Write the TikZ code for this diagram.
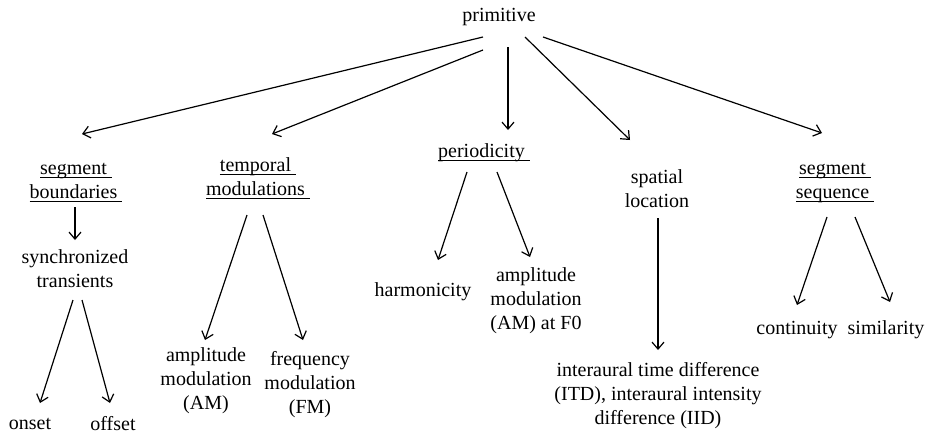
\documentclass[tikz,border=0pt]{standalone}
\usepackage{fontspec}
\setmainfont{Liberation Serif}
\usetikzlibrary{arrows.meta}
\newsavebox\ulbox
\newcommand\ulx[1]{\leavevmode\sbox\ulbox{#1\ }\rlap{\rule[-3pt]{\wd\ulbox}{0.8pt}}\usebox\ulbox}
\begin{document}
\begin{tikzpicture}[x=1pt,y=-1pt,
  txt/.style={font=\fontsize{20}{24}\selectfont, align=center, inner sep=0pt},
  arr/.style={-{Straight Barb[length=7pt,width=12pt]}, line width=1.2pt}]
\useasboundingbox (0,0) rectangle (936,434);
% nodes
\node[txt] (prim) at (499,17) {\strut primitive};
\node[txt] (sb) at (76,181.5) {\strut\ulx{segment}\\\strut\ulx{boundaries}};
\node[txt] (tm) at (258,179) {\strut\ulx{temporal}\\\strut\ulx{modulations}};
\node[txt] (per) at (484,153) {\strut\ulx{periodicity}};
\node[txt] (sl) at (657,190.5) {\strut spatial\\\strut location};
\node[txt] (ss) at (835,182) {\strut\ulx{segment}\\\strut\ulx{sequence}};
\node[txt] (st) at (75,270.5) {\strut synchronized\\\strut transients};
\node[txt] (on) at (30,424) {onset};
\node[txt] (off) at (113,424) {offset};
\node[txt] (am) at (206,381) {\strut amplitude\\\strut modulation\\\strut (AM)};
\node[txt] (fm) at (310,385) {\strut frequency\\\strut modulation\\\strut (FM)};
\node[txt] (har) at (423,292) {\strut harmonicity};
\node[txt] (amf) at (536,301) {\strut amplitude\\\strut modulation\\\strut (AM) at F0};
\node[txt] (itd) at (658,396) {\strut interaural time difference\\\strut (ITD), interaural intensity\\\strut difference (IID)};
\node[txt] (con) at (797,330) {\strut continuity};
\node[txt] (sim) at (886,330) {\strut similarity};
% connector end points
\coordinate (p1) at (483,37);  \coordinate (sbt) at (82,134);
\coordinate (p2) at (483,50);  \coordinate (tmt) at (272,134);
\coordinate (p3) at (508,47);  \coordinate (pert) at (508,130);
\coordinate (p4) at (525,37);  \coordinate (slt) at (630,140);
\coordinate (p5) at (543,37);  \coordinate (sst) at (822,133);
\coordinate (sbb) at (75,207); \coordinate (stt) at (75,240);
\coordinate (st1) at (73,300); \coordinate (ont) at (40,403);
\coordinate (st2) at (82,300); \coordinate (offt) at (110,403);
\coordinate (tm1) at (247,215); \coordinate (amt) at (205,340);
\coordinate (tm2) at (263,215); \coordinate (fmt) at (303,340);
\coordinate (pe1) at (467,172); \coordinate (hart) at (438,260);
\coordinate (pe2) at (497,172); \coordinate (amft) at (530,257);
\coordinate (slb) at (658,218); \coordinate (itdt) at (658,350);
\coordinate (ss1) at (827,217); \coordinate (cont) at (797,305);
\coordinate (ss2) at (855,217); \coordinate (simt) at (890,302);
% connectors
\draw[arr] (p1) -- (sbt);
\draw[arr] (p2) -- (tmt);
\draw[arr] (p3) -- (pert);
\draw[arr] (p4) -- (slt);
\draw[arr] (p5) -- (sst);
\draw[arr] (sbb) -- (stt);
\draw[arr] (st1) -- (ont);
\draw[arr] (st2) -- (offt);
\draw[arr] (tm1) -- (amt);
\draw[arr] (tm2) -- (fmt);
\draw[arr] (pe1) -- (hart);
\draw[arr] (pe2) -- (amft);
\draw[arr] (slb) -- (itdt);
\draw[arr] (ss1) -- (cont);
\draw[arr] (ss2) -- (simt);
\end{tikzpicture}
\end{document}
